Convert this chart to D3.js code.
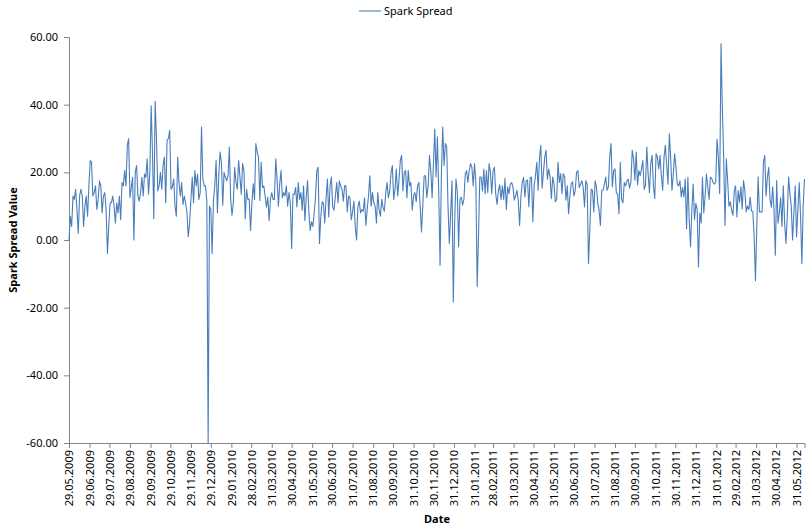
<!DOCTYPE html>
<meta charset="utf-8" />
<script src="https://d3js.org/d3.v7.min.js"></script>
<body style="margin:0;background:#fff">
<svg id="chart" width="806" height="530" style="display:block"></svg>
<script>
/* DATA -------------------------------------------------------------------- */
const seriesName = "Spark Spread";
const startDate  = new Date(2009, 4, 29);   // first observation
const stepDays   = 2;                       // spacing of the readings
const spread = [
  0,7,4,13,12,15,9,2,13,15, 13,4,10,13,7,16,23.5,23,13,14,
  16,9,12,17.5,16,8,13,14,9,-4, 4,11,11,13,10,5,11,8,13,6,
  17,16,20.5,16,28,30,
  12.5,15.5,18.5,0,20,22,13,11.5,14,18.5, 13,19.5,18.5,24,13.5,20,39.7,26,6.3,41,
  30,14.5,16,20,15,22,24.5,11,29.5,30, 32.4,15,15.7,18,10,7,24.5,17,13,17,
  10.5,13,11,8,1,5,12,18.5,11,20.5, 16,19.5,12,
  14,33.4,18,16,16,11.5,-60,10,9,-4, 11.7,16,23.5,8,19,26,23,10.3,20,18.5,
  17.5,19,27.5,12,7.3,11,21.5,17,15,23.5, 18.5,13.5,22.6,20.5,6.3,15,12,12,2.8,11,
  16.6,12,28.5,26,24.5,11.7,23,15.5,16,13, 9.7,12.7,5.8,
  12,14,12,12,24,18,10,16.5,20.5,12.5, 14,13,16,10,14,11,-2.5,13.5,13.5,15.5,
  9.8,17,12,14,8.8,16,5.8,12.5,17.6,8.3, 2.8,5.4,4,8,12.7,20.5,21.5,-1,6.8,11.3,
  10.8,5,12.5,18,6.8,16,18.6,9.8,8.8,13, 17,11,17.5,
  16,15,11.5,16,16,8.3,13,12.5,6,8.3, 11.5,4,0,9.8,11.5,8,9,8.5,12.5,4.3,
  9,13,19,10,14,11,10,5,14,9, 7,12,9.5,8.5,14,17,12.5,14.5,20,22,
  12,15,21,13,17.5,23.5,25,14.5,20,20.5, 12.5,20.5,16,
  17,8.8,13,14,11.3,16,17,10,2.4,10.5, 19,19,12.5,16,25,20.5,12.5,22.5,32.8,18.6,
  30.5,14,-7.5,19.5,33.4,22,28.5,27.5,10,-1, 8,17.5,-18.3,5,18,14.5,-2,12,12.7,10.3,
  12,19.5,20.5,17,20.5,22.6,21.5,16,22.6,17, -13.7,1,18.6,
  18.6,14.5,21,13.7,20.5,14,22.6,20,13.7,20.5, 21.5,13.7,10.5,14.5,16.3,12,16,12,18.2,9,
  15.7,13.7,16.5,17,15.7,11.8,13,14.7,11.8,4.3, 12.7,17,18.5,12.7,17.5,17.7,9.8,18.5,18.6,5.4,
  16,19,23,14.7,24,28,15.3,20,24.5,26.5, 18,21,18.6,
  12.2,18.6,16.5,11.3,12,23,17,19.6,13.7,19.6, 18.6,11.8,16,7.8,13,16.7,17.2,13,14.7,20,
  20.5,15.5,16.5,17.5,15.5,9.8,17.5,16.5,-7,3, 15,14.7,8.3,17.5,15.7,10.8,8.8,4.3,14.7,14.7,
  16.5,18.6,14.7,15.7,24.5,28.5,15.7,20.5,21,14, 13.5,7.8,
  23,12,11,17,16,17.5,18,15.3,17,26.5, 24,17.7,26,16.3,20.5,19,21,23.5,15,16,
  27.5,19.5,14,22.6,25,16,12.2,25.5,24.5,21, 25,19,14.7,24.5,28,22,16.5,31.4,24.5,14.7,
  19.5,25.5,21.5,16.5,16,17.5,12.7,15.5,12.7,18, 3.3,18.5,6,
  -2,9,16.5,6,10.8,9,-8,8,5,18.5, 8,13,19.5,15.7,12,18.6,18.2,17,16.5,17.2,
  29.8,24.5,13.7,58,39,24.5,4.3,24,17.6,10, 11.3,8.8,7.3,14.6,16,6.8,14.6,11.2,15.7,9.2,
  17.6,14.6,8.3,10,9,12.7,8.5,8.5,1,-12, 4,18.6,8.3,
  8.3,8.3,23,25,13,18.6,21.5,12,9.7,15.7, 8.8,-4.5,17.6,5,8,12.5,4,16,5,-1,
  7,18.6,13.7,10,0,8.3,16,1,8.8,17, 7.3,-7,10,18
];
const yTicks = [-60,-40,-20,0,20,40,60];
const xTickLabels = [
  "29.05.2009","29.06.2009","29.07.2009","29.08.2009","29.09.2009","29.10.2009",
  "29.11.2009","29.12.2009","29.01.2010","28.02.2010","31.03.2010","30.04.2010",
  "31.05.2010","30.06.2010","31.07.2010","31.08.2010","30.09.2010","31.10.2010",
  "30.11.2010","31.12.2010","31.01.2011","28.02.2011","31.03.2011","30.04.2011",
  "31.05.2011","30.06.2011","31.07.2011","31.08.2011","30.09.2011","31.10.2011",
  "30.11.2011","31.12.2011","31.01.2012","29.02.2012","31.03.2012","30.04.2012",
  "31.05.2012"
];

/* LAYOUT ------------------------------------------------------------------ */
const W = 806, H = 530;
const m = {left:69, right:1.5, top:37, bottom:87};
const font = "'Noto Sans','Open Sans',sans-serif";
const axisCol = "#868686", lineCol = "#4a7ebb";

const parse = d3.timeParse("%d.%m.%Y");
const data = spread.map((v,i)=>({date:d3.timeDay.offset(startDate,i*stepDays),value:v}));
const tickDates = xTickLabels.map(parse);

const x = d3.scaleTime()
  .domain([startDate, data[data.length-1].date])
  .range([m.left, W-m.right]);
const y = d3.scaleLinear().domain([-60,60]).range([H-m.bottom, m.top]);

const svg = d3.select("#chart").style("font-family",font);

/* y axis */
const yAx = svg.append("g").attr("transform",`translate(${m.left},0)`)
  .call(d3.axisLeft(y).tickValues(yTicks).tickFormat(v=>v.toFixed(2))
          .tickSizeOuter(0).tickSize(5).tickPadding(6));
/* x axis */
const xAx = svg.append("g").attr("transform",`translate(0,${H-m.bottom})`)
  .call(d3.axisBottom(x).tickValues(tickDates).tickFormat((d,i)=>xTickLabels[i])
          .tickSizeOuter(0).tickSize(5));

[yAx,xAx].forEach(g=>{
  g.select(".domain").attr("stroke",axisCol);
  g.selectAll(".tick line").attr("stroke",axisCol);
  g.selectAll(".tick text").attr("fill","#000").attr("font-size",11).attr("font-family",font);
});
xAx.selectAll(".tick text")
  .attr("transform","rotate(-90)")
  .attr("text-anchor","end")
  .attr("x",-7).attr("y",0).attr("dy","0.35em");

/* series */
svg.append("path").datum(data)
  .attr("fill","none").attr("stroke",lineCol).attr("stroke-width",1.1)
  .attr("stroke-linejoin","round")
  .attr("d",d3.line().x(d=>x(d.date)).y(d=>y(d.value)));

/* axis titles */
svg.append("text").attr("x",437).attr("y",523).attr("text-anchor","middle")
  .attr("font-size",11).attr("font-weight","bold").text("Date");
svg.append("text").attr("transform",`translate(17,${y(0)}) rotate(-90)`)
  .attr("text-anchor","middle").attr("font-size",11).attr("font-weight","bold")
  .text("Spark Spread Value");

/* legend */
const lg = svg.append("g").attr("transform","translate(359,11)");
lg.append("line").attr("x1",0).attr("x2",22).attr("stroke",lineCol).attr("stroke-width",1.1);
lg.append("text").attr("x",25).attr("dy","0.35em").attr("font-size",11).text(seriesName);
</script>
</body>
